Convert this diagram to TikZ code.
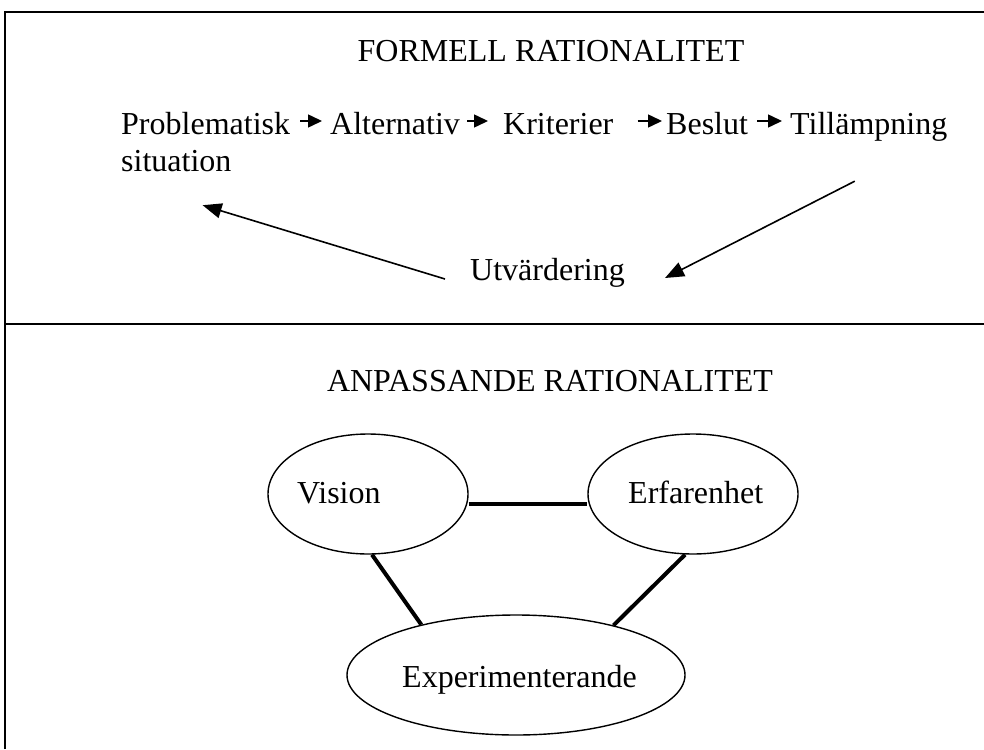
\documentclass[tikz,border=0pt]{standalone}
\usepackage{fontspec}
\setmainfont{Liberation Serif}
\usetikzlibrary{arrows.meta,shapes.geometric}
\begin{document}
\begin{tikzpicture}[x=1pt,y=-1pt,
  txt/.style={inner sep=0pt, font=\fontsize{32}{38}\selectfont, text height=22pt, text depth=7pt},
  frameline/.style={line width=2.5pt},
  flowarr/.style={line width=1.5pt, -{Triangle[length=14pt,width=13pt]}},
  bigarr/.style={line width=1.6pt, -{Triangle[length=19pt,width=15pt]}},
  oval/.style={draw, ellipse, line width=1.4pt, inner sep=0pt},
  conn/.style={line width=4pt}]
\useasboundingbox (0,0) rectangle (984,749);
% frame
\draw[frameline] (5,749) -- (5,12) -- (984,12);
\draw[frameline] (5,324) -- (984,324);
% top section
\node[txt, anchor=base] (t1) at (551,62) {FORMELL RATIONALITET};
\node[txt, anchor=base west] (prob) at (121,135) {Problematisk};
\node[txt, anchor=base west] (sit) at (121,171) {situation};
\node[txt, anchor=base west] (alt) at (330,135) {Alternativ};
\node[txt, anchor=base west] (krit) at (503,135) {Kriterier};
\node[txt, anchor=base west] (bes) at (666,135) {Beslut};
\node[txt, anchor=base west] (till) at (790,135) {Tillämpning};
\node[txt, anchor=base west] (utv) at (470,280) {Utvärdering};
\draw[flowarr, shorten <=10pt, shorten >=8pt] ([yshift=6.5pt]prob.east) -- ([yshift=6.5pt]alt.west);
\draw[flowarr, shorten <=7pt, shorten >=15pt] ([yshift=6.5pt]alt.east) -- ([yshift=6.5pt]krit.west);
\draw[flowarr, shorten <=24pt, shorten >=4pt] ([yshift=6.5pt]krit.east) -- ([yshift=6.5pt]bes.west);
\draw[flowarr, shorten <=9pt, shorten >=8pt] ([yshift=6.5pt]bes.east) -- ([yshift=6.5pt]till.west);
\draw[bigarr] ([shift={(-25pt,-6.5pt)}]utv.west) -- ([shift={(-29pt,-27pt)}]sit.south east);
\draw[bigarr] ([shift={(-14pt,-39pt)}]till.south) -- ([shift={(40pt,-5.5pt)}]utv.east);
% bottom section
\node[txt, anchor=base] (t2) at (550,391) {ANPASSANDE RATIONALITET};
\node[oval, minimum width=200pt, minimum height=120pt] (vis) at (368,494) {};
\node[oval, minimum width=210pt, minimum height=120pt] (erf) at (693,494) {};
\node[oval, minimum width=338pt, minimum height=120pt] (exp) at (516,675) {};
\node[txt, anchor=base west] (vist) at (297,503) {Vision};
\node[txt, anchor=base west] (erft) at (628,503) {Erfarenhet};
\node[txt, anchor=base west] (expt) at (402,687) {Experimenterande};
\draw[conn] ([yshift=-10pt]vis.east) -- ([yshift=-10pt]erf.west);
\draw[conn] ([xshift=4pt]vis.south) -- (exp.152);
\draw[conn] ([xshift=-8pt]erf.south) -- (exp.27);
\end{tikzpicture}
\end{document}
